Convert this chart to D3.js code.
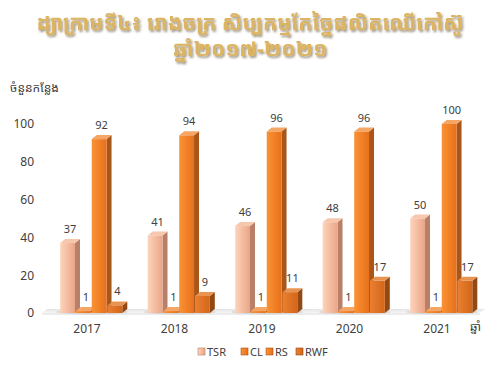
<!DOCTYPE html>
<html><head><meta charset="utf-8">
<script src="https://cdn.jsdelivr.net/npm/d3@7"></script>
<style>body{margin:0;background:#fff}svg{display:block}</style>
</head><body>
<script>
const years = ["2017","2018","2019","2020","2021"];
const seriesNames = ["TSR","CL","RS","RWF"];
const TSR = [37,41,46,48,50];
const CL = [1,1,1,1,1];
const RS = [92,94,96,96,100];
const RWF = [4,9,11,17,17];
const yTicks = [0,20,40,60,80,100];
const titleLines = ["ដ្យាក្រាមទី៤៖ រោងចក្រ សិប្បកម្មកែច្នៃផលិតឈើកៅស៊ូ","ឆ្នាំ២០១៧-២០២១"];
const yTitle = "ចំនួនកន្លែង";
const xTitle = "ឆ្នាំ";

const values = {TSR, CL, RS, RWF};
const W=500,H=375;
const svg=d3.select("body").append("svg").attr("width",W).attr("height",H);
const defs=svg.append("defs");
const pal={
  TSR:{f0:"#fdd4bb",f1:"#eaa587",side:"#b98069",top:"#f6c6ad"},
  CL:{f0:"#fa9234",f1:"#e8701a",side:"#a8561a",top:"#f6a664"},
  RS:{f0:"#fa9234",f1:"#e8701a",side:"#a8561a",top:"#f6a664"},
  RWF:{f0:"#ea8030",f1:"#d2661a",side:"#944812",top:"#e89450"}
};
seriesNames.forEach(s=>{
  const g=defs.append("linearGradient").attr("id","g"+s).attr("x1",0).attr("x2",1).attr("y1",0).attr("y2",0);
  g.append("stop").attr("offset","0%").attr("stop-color",pal[s].f0);
  g.append("stop").attr("offset","100%").attr("stop-color",pal[s].f1);
});
const fl=defs.append("linearGradient").attr("id","floor").attr("x1",0).attr("x2",0).attr("y1",0).attr("y2",1);
fl.append("stop").attr("offset","0%").attr("stop-color","#e4e4e4");
fl.append("stop").attr("offset","100%").attr("stop-color","#f6f6f6");
const sh=defs.append("filter").attr("id","tsh").attr("x","-10%").attr("y","-30%").attr("width","120%").attr("height","160%");
sh.append("feDropShadow").attr("dx",1.5).attr("dy",2).attr("stdDeviation",0.8).attr("flood-color","#6a5a40").attr("flood-opacity",0.65);

// title
const t=svg.append("g").attr("font-family","'Khmer OS Muol Light','Khmer OS Muol','Noto Sans Khmer','Noto Serif Khmer',sans-serif")
  .attr("font-size",21).attr("font-weight","bold").attr("text-anchor","middle").attr("filter","url(#tsh)");
titleLines.forEach((l,i)=>{
  t.append("text").attr("x",250).attr("y",30+i*26).attr("fill","#dcb462").text(l);
});

const x0=d3.scaleBand().domain(years).range([43.25,480.75]).padding(0);
const x1=d3.scaleBand().domain(seriesNames).range([16,80]).padding(0.06);
const y=d3.scaleLinear().domain([0,100]).range([313,124]);
const dx=5,dy=-4;

// floor
svg.append("path").attr("d",`M42,${y(0)} L480,${y(0)} L${480+dx},${y(0)+dy} L${42+dx},${y(0)+dy}Z`).attr("fill","url(#floor)");
svg.append("line").attr("x1",42).attr("x2",480).attr("y1",y(0)+1).attr("y2",y(0)+1).attr("stroke","#d9d9d9").attr("stroke-width",1.2);

// y axis
const yAxis=d3.axisLeft(y).tickValues(yTicks).tickSize(0).tickPadding(0);
const ya=svg.append("g").attr("transform","translate(34,0)").call(yAxis);
ya.select(".domain").remove();
ya.selectAll("text").attr("font-family","'Noto Sans',sans-serif").attr("font-size",12).attr("fill","#404040");

// x axis
const xAxis=d3.axisBottom(x0).tickSize(0).tickPadding(0);
const xa=svg.append("g").attr("transform","translate(0,324)").call(xAxis);
xa.select(".domain").remove();
xa.selectAll("text").attr("font-family","'Noto Sans',sans-serif").attr("font-size",12).attr("fill","#404040");

// bars
years.forEach((yr,i)=>{
  const gx=x0(yr);
  svg.append("ellipse").attr("cx",gx+x1("TSR")+32).attr("cy",y(0)-1).attr("rx",36).attr("ry",2.5).attr("fill","#c8c8c8").attr("opacity",0.6);
  seriesNames.forEach(s=>{
    const v=values[s][i];
    const bx=gx+x1(s), bw=x1.bandwidth(), top=y(v), base=y(0);
    const g=svg.append("g");
    g.append("path").attr("d",`M${bx+bw},${base} L${bx+bw+dx},${base+dy} L${bx+bw+dx},${top+dy} L${bx+bw},${top}Z`).attr("fill",pal[s].side);
    g.append("path").attr("d",`M${bx},${top} L${bx+dx},${top+dy} L${bx+bw+dx},${top+dy} L${bx+bw},${top}Z`).attr("fill",pal[s].top);
    g.append("rect").attr("x",bx).attr("y",top).attr("width",bw).attr("height",base-top).attr("fill","url(#g"+s+")");
    svg.append("text").attr("x",bx+bw/2+dx/2).attr("y",top+dy-6).attr("text-anchor","middle")
      .attr("font-family","'Noto Sans',sans-serif").attr("font-size",11).attr("fill","#404040").text(v);
  });
});

// axis titles
svg.append("text").attr("x",10).attr("y",92).attr("font-family","'Noto Sans Khmer','Khmer OS',sans-serif").attr("font-size",12).attr("fill","#404040").text(yTitle);
svg.append("text").attr("x",470).attr("y",331).attr("font-family","'Noto Sans Khmer','Khmer OS',sans-serif").attr("font-size",12).attr("fill","#404040").text(xTitle);

// legend
const lg=svg.append("g").attr("font-family","'Noto Sans',sans-serif").attr("font-size",11).attr("fill","#404040");
const lx=[198,241,266,296];
seriesNames.forEach((s,i)=>{
  lg.append("rect").attr("x",lx[i]).attr("y",348).attr("width",7).attr("height",7).attr("fill","url(#g"+s+")").attr("stroke",pal[s].side).attr("stroke-width",0.6);
  lg.append("text").attr("x",lx[i]+9).attr("y",356).text(s);
});
</script>
</body></html>
